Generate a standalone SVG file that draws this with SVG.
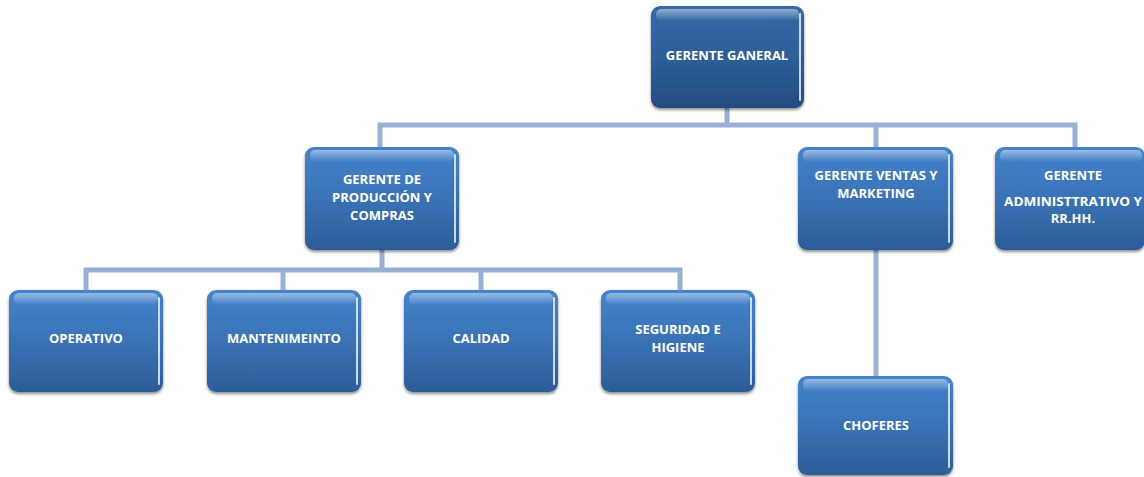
<svg xmlns="http://www.w3.org/2000/svg" width="1144" height="477" viewBox="0 0 1144 477">
<defs>
<linearGradient id="gTop" x1="0" y1="0" x2="0" y2="1">
<stop offset="0" stop-color="#3569a8"/>
<stop offset="0.5" stop-color="#2d5e99"/>
<stop offset="1" stop-color="#244c81"/>
</linearGradient>
<linearGradient id="gBox" x1="0" y1="0" x2="0" y2="1">
<stop offset="0" stop-color="#4483cc"/>
<stop offset="0.5" stop-color="#3a72b6"/>
<stop offset="1" stop-color="#2c5c98"/>
</linearGradient>
<linearGradient id="gShine" x1="0" y1="0" x2="0" y2="1">
<stop offset="0" stop-color="#ffffff" stop-opacity="0.45"/>
<stop offset="1" stop-color="#ffffff" stop-opacity="0"/>
</linearGradient>
<filter id="sh" x="-10%" y="-10%" width="120%" height="130%">
<feGaussianBlur in="SourceAlpha" stdDeviation="1.5"/>
<feOffset dx="0" dy="2" result="b"/>
<feComponentTransfer><feFuncA type="linear" slope="0.45"/></feComponentTransfer>
<feMerge><feMergeNode/><feMergeNode in="SourceGraphic"/></feMerge>
</filter>
</defs>
<style>
.con{stroke:#97b1d6;stroke-width:5;fill:none;stroke-linecap:square}
.box{fill:url(#gBox);filter:url(#sh)}
.top{fill:url(#gTop);filter:url(#sh)}
.shine{fill:url(#gShine)}
.edge{stroke:#e8f1ff;stroke-width:2;stroke-linecap:round;opacity:0.85}
.t{font-family:"Open Sans","Liberation Sans",sans-serif;font-weight:bold;font-size:13px;fill:#ffffff;text-anchor:middle;dominant-baseline:middle}
</style>
<rect width="1144" height="477" fill="#ffffff"/>
<g id="connectors">
<path class="con" d="M727 108V125M380 125H1075M380 125V148M876 125V148M1075 125V148"/>
<path class="con" d="M382 250V270M86 270H680M86 270V291M283 270V291M481 270V291M680 270V291"/>
<path class="con" d="M876 250V377"/>
</g>
<g id="n-gerente-general">
<rect class="top" x="651" y="6" width="153" height="102" rx="9"/>
<rect class="shine" x="656" y="9" width="143" height="12" rx="5"/>
<line class="edge" x1="800" y1="14" x2="800" y2="100"/>
<text class="t" x="727" y="57">GERENTE GANERAL</text>
</g>
<g id="n-produccion">
<rect class="box" x="305" y="147" width="154" height="103" rx="9"/>
<rect class="shine" x="310" y="150" width="144" height="12" rx="5"/>
<line class="edge" x1="455" y1="155" x2="455" y2="242"/>
<text class="t" x="382" y="181">GERENTE DE</text>
<text class="t" x="382" y="199">PRODUCCIÓN Y</text>
<text class="t" x="382" y="217">COMPRAS</text>
</g>
<g id="n-ventas">
<rect class="box" x="798" y="147" width="155" height="103" rx="9"/>
<rect class="shine" x="803" y="150" width="145" height="12" rx="5"/>
<line class="edge" x1="949" y1="155" x2="949" y2="242"/>
<text class="t" x="876" y="177">GERENTE VENTAS Y</text>
<text class="t" x="876" y="195">MARKETING</text>
</g>
<g id="n-administrativo">
<rect class="box" x="995" y="147" width="150" height="103" rx="9"/>
<rect class="shine" x="1000" y="150" width="142" height="12" rx="5"/>
<text class="t" x="1073" y="177">GERENTE</text>
<text class="t" x="1073" y="203" textLength="138" lengthAdjust="spacingAndGlyphs">ADMINISTTRATIVO Y</text>
<text class="t" x="1073" y="220">RR.HH.</text>
</g>
<g id="n-operativo">
<rect class="box" x="9" y="290" width="154" height="102" rx="9"/>
<rect class="shine" x="14" y="293" width="144" height="12" rx="5"/>
<line class="edge" x1="159" y1="298" x2="159" y2="384"/>
<text class="t" x="86" y="340">OPERATIVO</text>
</g>
<g id="n-mantenimiento">
<rect class="box" x="207" y="290" width="154" height="102" rx="9"/>
<rect class="shine" x="212" y="293" width="144" height="12" rx="5"/>
<line class="edge" x1="357" y1="298" x2="357" y2="384"/>
<text class="t" x="284" y="340">MANTENIMEINTO</text>
</g>
<g id="n-calidad">
<rect class="box" x="404" y="290" width="154" height="102" rx="9"/>
<rect class="shine" x="409" y="293" width="144" height="12" rx="5"/>
<line class="edge" x1="554" y1="298" x2="554" y2="384"/>
<text class="t" x="481" y="340">CALIDAD</text>
</g>
<g id="n-seguridad">
<rect class="box" x="601" y="290" width="154" height="102" rx="9"/>
<rect class="shine" x="606" y="293" width="144" height="12" rx="5"/>
<line class="edge" x1="751" y1="298" x2="751" y2="384"/>
<text class="t" x="678" y="331">SEGURIDAD E</text>
<text class="t" x="678" y="349">HIGIENE</text>
</g>
<g id="n-choferes">
<rect class="box" x="798" y="376" width="155" height="99" rx="9"/>
<rect class="shine" x="803" y="379" width="145" height="12" rx="5"/>
<line class="edge" x1="949" y1="384" x2="949" y2="467"/>
<text class="t" x="876" y="427">CHOFERES</text>
</g>
</svg>
